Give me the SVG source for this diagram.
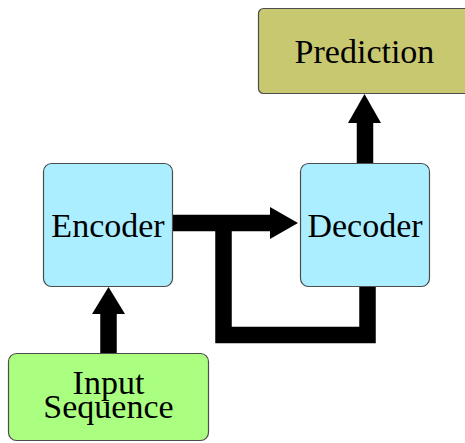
<svg xmlns="http://www.w3.org/2000/svg" width="465" height="443" viewBox="0 0 465 443">
<style>
.box{stroke:#4d4d4d;stroke-width:1.2}
.lbl{font-family:"Liberation Serif","Times New Roman",serif;font-size:34px;fill:#000;text-anchor:middle}
.conn{fill:none;stroke:#000;stroke-width:16.5}
.head{fill:#000}
</style>
<rect width="465" height="443" fill="#fff"/>
<g id="connectors">
<path class="conn" d="M173 223H272"/>
<polygon class="head" points="270,207 298,223 270,239"/>
<path class="conn" d="M367.5 287V335H223.5V222"/>
<path class="conn" d="M108.5 353V312"/>
<polygon class="head" points="92,314 108.5,287 125,314"/>
<path class="conn" d="M365 163V121"/>
<polygon class="head" points="348,123 364.5,94 381,123"/>
</g>
<g id="encoder">
<rect class="box" x="43.5" y="163.5" width="129" height="123" rx="8" fill="#aaeeff"/>
<text class="lbl" x="108" y="237">Encoder</text>
</g>
<g id="decoder">
<rect class="box" x="300.5" y="163.5" width="129" height="123" rx="8" fill="#aaeeff"/>
<text class="lbl" x="365" y="237">Decoder</text>
</g>
<g id="prediction">
<rect class="box" x="258.5" y="8.5" width="213" height="85" rx="5" fill="#c8c870"/>
<text class="lbl" x="364.5" y="63">Prediction</text>
</g>
<g id="input">
<rect class="box" x="8.5" y="353.5" width="200" height="87" rx="8" fill="#aaff80"/>
<text class="lbl" x="108.5" y="394">Input</text>
<text class="lbl" x="108.5" y="418">Sequence</text>
</g>
</svg>
